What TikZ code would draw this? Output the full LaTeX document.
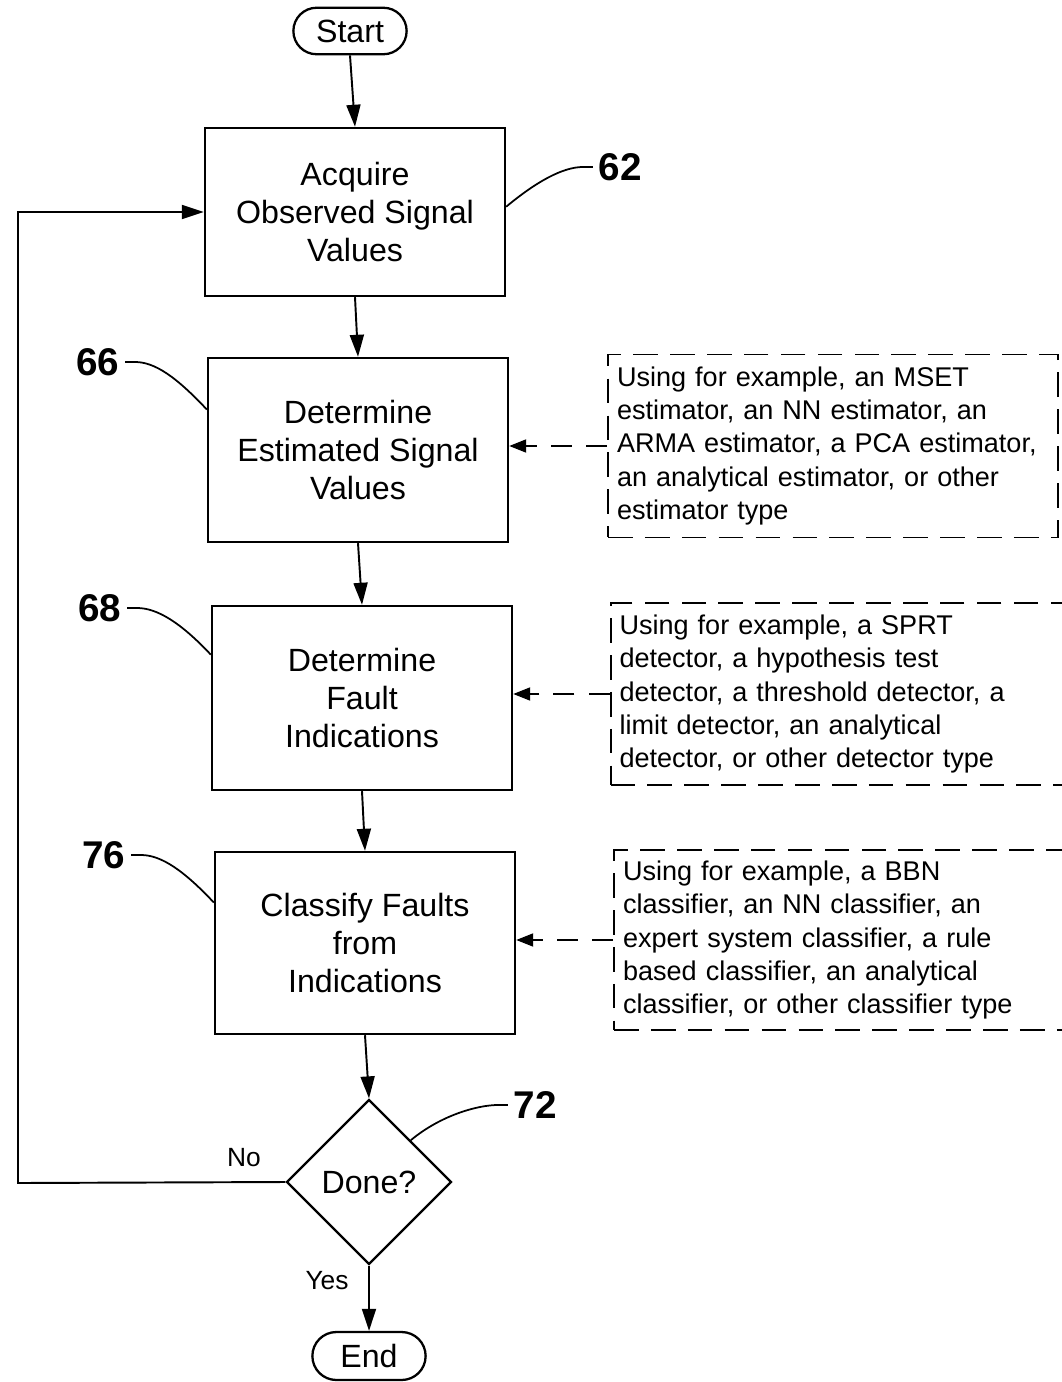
\documentclass[tikz,border=0pt]{standalone}
\usepackage{fontspec}
\setmainfont{Liberation Sans}
\usepackage{tikz}
\usetikzlibrary{shapes.geometric, shapes.misc, arrows.meta, positioning}
\newcommand{\boxfont}{\fontsize{18.3pt}{21.5pt}\selectfont}
\newcommand{\notefont}{\fontsize{15.4pt}{18.8pt}\selectfont}
\newcommand{\reffont}{\fontsize{22pt}{24pt}\selectfont\bfseries}
\tikzset{
  stepbox/.style={rectangle, draw, line width=1.4pt, minimum width=6cm, align=center, font=\boxfont},
  termbox/.style={rounded rectangle, draw, line width=1.3pt, minimum width=2.5cm, minimum height=0.93cm, font=\boxfont},
  decbox/.style={diamond, draw, line width=1.3pt, minimum width=3.3cm, minimum height=3.3cm, inner sep=0pt, font=\boxfont},
  notebox/.style={rectangle, draw, line width=1.1pt, dash pattern=on 14pt off 7pt, align=left, inner xsep=0.18cm, font=\notefont},
  refnum/.style={font=\reffont, inner sep=3pt},
  yesno/.style={font=\fontsize{15pt}{18pt}\selectfont, inner sep=0pt},
  arr/.style={-{Triangle[length=4.4mm, width=2.8mm]}, line width=1.1pt},
  darr/.style={-{Triangle[length=3.4mm, width=2.6mm]}, line width=1.1pt, dash pattern=on 12pt off 8pt},
  lead/.style={line width=1pt},
}
\begin{document}
\begin{tikzpicture}[x=0.02cm, y=-0.02cm]
  \useasboundingbox (0,0) rectangle (1061,1382);

  % main flow
  \node[termbox] (start) at (350,31) {Start};
  \node[stepbox, minimum height=3.36cm] (acq) at (355,212) {Acquire\\Observed Signal\\Values};
  \node[stepbox, minimum height=3.68cm] (est) at (358,450) {Determine\\Estimated Signal\\Values};
  \node[stepbox, minimum height=3.68cm] (fault) at (362,698) {Determine\\Fault\\Indications};
  \node[stepbox, minimum height=3.64cm] (cls) at (365,943) {Classify Faults\\from\\Indications};
  \node[decbox] (done) at (369,1182) {Done?};
  \node[termbox, minimum height=0.96cm] (end) at (369,1356) {End};

  \draw[arr] (start.south) -- (acq.north);
  \draw[arr] (acq.south) -- (est.north);
  \draw[arr] (est.south) -- (fault.north);
  \draw[arr] (fault.south) -- (cls.north);
  \draw[arr] (cls.south) -- (done.north);
  \draw[arr] (done.south) -- (end.north);

  % loop back
  \coordinate (loop) at (18,1183);
  \draw[arr] (done.west) -- (loop) |- (acq.west);
  \node[yesno] (no) at (244,1158) {No};
  \node[yesno] (yes) at (327,1281) {Yes};

  % notes
  \node[notebox, minimum width=9cm, minimum height=3.66cm, text width=8.64cm] (notea) at (833,446) {Using for example, an MSET\\estimator, an NN estimator, an\\ARMA estimator, a PCA estimator,\\an analytical estimator, or other\\estimator type};
  \node[notebox, minimum width=9.1cm, minimum height=3.64cm, text width=8.74cm] (noteb) at (838,694) {Using for example, a SPRT\\detector, a hypothesis test\\detector, a threshold detector, a\\limit detector, an analytical\\detector, or other detector type};
  \node[notebox, minimum width=9.04cm, minimum height=3.6cm, text width=8.68cm] (notec) at (840,940) {Using for example, a BBN\\classifier, an NN classifier, an\\expert system classifier, a rule\\based classifier, an analytical\\classifier, or other classifier type};

  \draw[darr] (notea.west) -- (est.east |- notea.west);
  \draw[darr] (noteb.west) -- (fault.east |- noteb.west);
  \draw[darr] (notec.west) -- (cls.east |- notec.west);

  % reference numbers
  \node[refnum] (n62) at (620,167) {62};
  \node[refnum] (n66) at (98,362) {66};
  \node[refnum] (n68) at (100,608) {68};
  \node[refnum] (n76) at (104,855) {76};
  \node[refnum] (n72) at (535,1105) {72};

  \draw[lead] (n62.west) -- ++(-10,0) .. controls +(-20,0) and +(30,-25) .. (acq.2);
  \draw[lead] (n66.east) -- ++(10,0) .. controls +(20,0) and +(-30,-32) .. (est.165);
  \draw[lead] (n68.east) -- ++(10,0) .. controls +(20,0) and +(-30,-32) .. (fault.164);
  \draw[lead] (n76.east) -- ++(10,0) .. controls +(20,0) and +(-30,-32) .. (cls.165);
  \draw[lead] (n72.west) -- ++(-10,0) .. controls +(-20,0) and +(30,-25) .. (done.north east);
\end{tikzpicture}
\end{document}
